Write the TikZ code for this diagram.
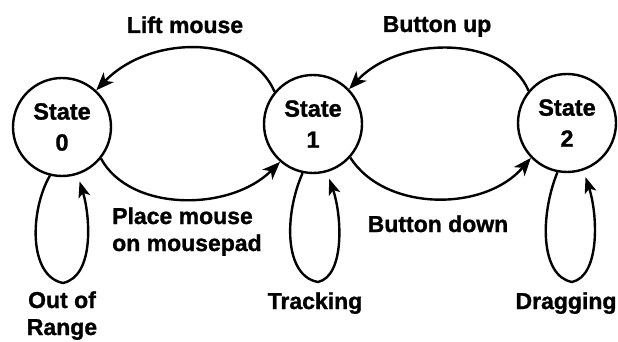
\documentclass[tikz,border=0pt]{standalone}
\usepackage{fontspec}
\setmainfont{Liberation Sans}[FakeBold=1.2]
\usetikzlibrary{arrows.meta}
\begin{document}
\begin{tikzpicture}[x=1pt,y=-1pt,
  state/.style={circle,draw,line width=2.4pt,minimum size=98pt,inner sep=0pt,align=center,
    font=\fontsize{23.5}{31}\selectfont\bfseries},
  lbl/.style={font=\fontsize{23}{27}\selectfont\bfseries,inner sep=0pt,anchor=base},
  conn/.style={line width=2.4pt,-{Stealth[length=18pt,width=14pt,inset=5pt]}},
  loopc/.style={line width=2.4pt,-{Stealth[length=16pt,width=12pt,inset=4pt]},shorten >=7pt}]
\useasboundingbox (0,0) rectangle (618,342);

\node[state] (s0) at (62,127) {State\\0};
\node[state] (s1) at (313,124) {State\\1};
\node[state] (s2) at (567,123) {State\\2};

% arcs between states
\draw[conn] (s1.140) .. controls (250,34) and (150,34) .. (s0.47);
\draw[conn] (s2.140) .. controls (505,35) and (400,35) .. (s1.44);
\draw[conn] (s0.-39) .. controls (130,212) and (230,212) .. (s1.229);
\draw[conn] (s1.318) .. controls (385,212) and (485,212) .. (s2.224);

% self loops
\draw[loopc] (s0.256) .. controls (30,210) and (28,276) .. (63,283)
             .. controls (95,276) and (90,215) .. (s0.288);
\draw[loopc] (s1.258) .. controls (284,215) and (284,276) .. (318,282)
             .. controls (345,276) and (342,215) .. (s1.286);
\draw[loopc] (s2.259) .. controls (540,215) and (540,276) .. (572,282)
             .. controls (600,276) and (598,215) .. (s2.289);

% labels (base anchor = baseline of the last line)
\node[lbl] (lLift) at (185,33) {Lift mouse};
\node[lbl] (lUp) at (437,32) {Button up};
\node[lbl,anchor=base west,align=left] (lPlace) at (112,251) {Place mouse\\on mousepad};
\node[lbl] (lDown) at (438,232) {Button down};
\node[lbl,align=center] (lOut) at (62,335) {Out of\\Range};
\node[lbl] (lTrack) at (315,309) {Tracking};
\node[lbl] (lDrag) at (566,309) {Dragging};
\end{tikzpicture}
\end{document}
